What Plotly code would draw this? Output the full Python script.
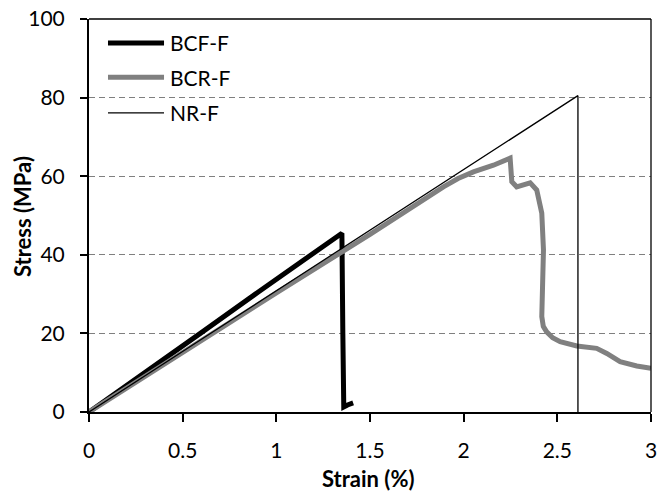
import plotly.graph_objects as go

# BCF-F
bcf_x = [0, 0.3, 0.6, 0.9, 1.2, 1.35, 1.355, 1.36, 1.38, 1.41]
bcf_y = [0, 10.0, 20.2, 30.4, 40.5, 45.5, 20.0, 1.3, 1.8, 2.3]
# BCR-F
bcr_x = [0, 0.5, 1.0, 1.5, 1.7, 1.892, 1.97, 2.052, 2.159, 2.235, 2.248, 2.257, 2.283, 2.355, 2.39, 2.417,
         2.426, 2.417, 2.425, 2.443, 2.475, 2.515, 2.604, 2.71, 2.764, 2.835, 2.924, 3.0]
bcr_y = [0, 15.2, 30.3, 45.2, 51.5, 57.3, 59.4, 61.1, 62.8, 64.5, 64.6, 58.6, 57.3, 58.3, 56.5, 50.6,
         41.2, 24.3, 21.8, 20.4, 18.9, 17.9, 16.8, 16.2, 14.9, 12.8, 11.7, 11.1]
# NR-F
nr_x = [0, 2.61, 2.61]
nr_y = [0, 80.5, 0]

names = ["BCF-F", "BCR-F", "NR-F"]
colors = ["#000000", "#808080", "#000000"]
widths = [5, 5, 1.3]

x_ticks = [0, 0.5, 1, 1.5, 2, 2.5, 3]
x_labels = ["0", "0.5", "1", "1.5", "2", "2.5", "3"]
y_ticks = [0, 20, 40, 60, 80, 100]
y_labels = ["0", "20", "40", "60", "80", "100"]
x_title = "Strain (%)"
y_title = "Stress (MPa)"

fig = go.Figure()
fig.add_trace(go.Scatter(x=bcf_x, y=bcf_y, mode="lines", name=names[0], showlegend=False,
                         line=dict(color=colors[0], width=widths[0])))
fig.add_trace(go.Scatter(x=bcr_x, y=bcr_y, mode="lines", name=names[1], showlegend=False,
                         line=dict(color=colors[1], width=widths[1])))
# NR-F drawn on the overlay axes (identical ranges), which carry the tick labels
fig.add_trace(go.Scatter(x=nr_x, y=nr_y, mode="lines", name=names[2], showlegend=False,
                         xaxis="x2", yaxis="y2",
                         line=dict(color=colors[2], width=widths[2])))

font = "Lato, 'Open Sans', sans-serif"
fig.update_layout(
    width=659, height=495,
    margin=dict(l=89, r=8, t=19, b=83, autoexpand=False),
    paper_bgcolor="white", plot_bgcolor="white",
    font=dict(family=font, color="#000000"),
    showlegend=False,
    # axes with lines and visible ticks
    xaxis=dict(range=[0, 3], tickvals=x_ticks, showticklabels=False, showgrid=False, zeroline=False,
               showline=True, linecolor="#000000", linewidth=2, automargin=False,
               ticks="outside", ticklen=8, tickwidth=2, tickcolor="#000000"),
    yaxis=dict(range=[0, 100], tickvals=y_ticks, showticklabels=False, showgrid=True,
               gridcolor="#7f7f7f", gridwidth=1.3, griddash="6px,4px", zeroline=False,
               automargin=False, showline=True, linecolor="#000000", linewidth=2,
               ticks="outside", ticklen=7, tickwidth=2, tickcolor="#000000"),
    # overlay axes carrying the tick labels a bit further out
    xaxis2=dict(range=[0, 3], overlaying="x", anchor="y2", side="bottom", tickvals=x_ticks,
                ticktext=x_labels, showgrid=False, zeroline=False, showline=False,
                automargin=False, ticks="outside", ticklen=20, tickcolor="rgba(0,0,0,0)",
                tickfont=dict(size=21)),
    yaxis2=dict(range=[0, 100], overlaying="y", anchor="x2", side="left", tickvals=y_ticks,
                ticktext=y_labels, showgrid=False, zeroline=False, showline=False,
                automargin=False, ticks="outside", ticklen=19, tickcolor="rgba(0,0,0,0)",
                tickfont=dict(size=21)),
)
# axis titles
fig.add_annotation(xref="paper", yref="paper", x=0.4964, y=-0.168, text="<b>" + x_title + "</b>",
                   showarrow=False, xanchor="center", yanchor="middle", font=dict(size=22, family=font))
fig.add_annotation(xref="paper", yref="paper", x=-0.1192, y=0.496, text="<b>" + y_title + "</b>",
                   showarrow=False, textangle=-90, xanchor="center", yanchor="middle",
                   font=dict(size=22, family=font))
# plot-area border (top / right)
fig.add_shape(type="line", xref="paper", yref="paper", x0=0, x1=1, y0=1, y1=1,
              line=dict(color="#000000", width=1.3))
fig.add_shape(type="line", xref="paper", yref="paper", x0=1, x1=1, y0=0, y1=1,
              line=dict(color="#000000", width=1.3))
# legend
fig.add_shape(type="rect", xref="paper", yref="paper", x0=0.004, x1=0.281, y0=0.728, y1=0.99,
              fillcolor="white", line=dict(width=0), layer="below")
leg_y = [0.939, 0.852, 0.761]
for n, c, w, yy in zip(names, colors, widths, leg_y):
    fig.add_shape(type="line", xref="paper", yref="paper", x0=0.0338, x1=0.1335, y0=yy, y1=yy,
                  line=dict(color=c, width=w))
    fig.add_annotation(xref="paper", yref="paper", x=0.1406, y=yy, text=n, showarrow=False,
                       xanchor="left", yanchor="middle", font=dict(size=21, family=font))
fig.write_html("out.html", config={"displayModeBar": False},
               post_script="document.body.style.margin='0';document.body.style.overflow='hidden';")
